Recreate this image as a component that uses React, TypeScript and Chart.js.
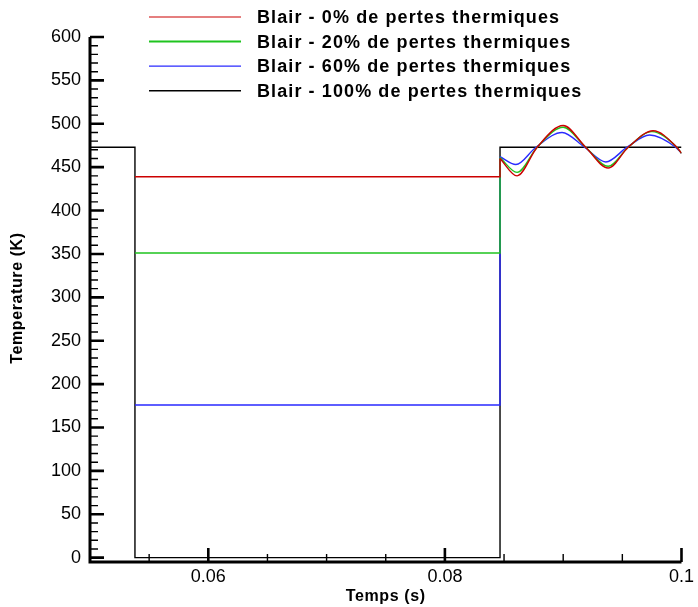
import React, { useEffect, useRef } from "react";
import { Chart, registerables } from "chart.js";

Chart.register(...registerables);

// ---- Data ----
const SERIES_LABELS = [
  "Blair - 0% de pertes thermiques",
  "Blair - 20% de pertes thermiques",
  "Blair - 60% de pertes thermiques",
  "Blair - 100% de pertes thermiques",
];
const SERIES_COLORS = ["#cc0000", "#1fc41f", "#2a2aff", "#000000"];

const T_START = 0.05;
const T_DROP = 0.0538;
const T_RISE = 0.08466;
const T_END = 0.1;
const T_INITIAL = 473; // K before the drop
const PLATEAU = [439, 351, 176, 0]; // K between drop and rise
const BLACK_AFTER = 473;

// Oscillation after the rise (time, temperature)
const OSC_T_RED = [0.08466, 0.0861, 0.0878, 0.09, 0.0919, 0.0938, 0.0955, 0.0976, 0.0996, 0.1];
const OSC_RED = [460, 440, 473, 498, 473, 449, 473, 492, 473, 466];
const OSC_T_GREEN = [0.08466, 0.0861, 0.0878, 0.09, 0.0919, 0.0938, 0.0955, 0.0975, 0.0996, 0.1];
const OSC_GREEN = [461, 444, 473, 496, 473, 451, 473, 491, 473, 466];
const OSC_T_BLUE = [0.08466, 0.086, 0.0877, 0.0899, 0.0918, 0.0936, 0.0954, 0.0973, 0.0995, 0.1];
const OSC_BLUE = [462, 453, 473, 490, 473, 456, 473, 487, 473, 466];

const X_MIN = 0.05;
const X_MAX = 0.1;
const Y_MIN = -5;
const Y_MAX = 600;
const X_TICKS = [0.06, 0.08, 0.1];
const X_MINOR_STEP = 0.005;
const Y_TICKS = [0, 50, 100, 150, 200, 250, 300, 350, 400, 450, 500, 550, 600];
const Y_MINOR_STEP = 10;

const FONT = "'Liberation Sans', Arial, Helvetica, sans-serif";

const pts = (xs: number[], ys: number[]) => xs.map((x, i) => ({ x, y: ys[i] }));

const axesPlugin = {
  id: "tecplotAxes",
  afterDatasetsDraw(chart: any) {
    const { ctx, chartArea, scales } = chart;
    const xs = scales.x;
    const ys = scales.y;
    const { left, right, top, bottom } = chartArea;
    ctx.save();
    ctx.strokeStyle = "#000";
    ctx.lineWidth = 3;
    ctx.lineJoin = "miter";
    ctx.beginPath();
    ctx.moveTo(left, top);
    ctx.lineTo(left, bottom);
    ctx.lineTo(right, bottom);
    ctx.stroke();
    ctx.lineWidth = 2.6;
    ctx.beginPath();
    for (const v of Y_TICKS) {
      const y = ys.getPixelForValue(v);
      ctx.moveTo(left, y);
      ctx.lineTo(left + 14, y);
    }
    for (const v of X_TICKS) {
      const x = xs.getPixelForValue(v);
      ctx.moveTo(x, bottom);
      ctx.lineTo(x, bottom - 14);
    }
    ctx.stroke();
    ctx.lineWidth = 1.4;
    ctx.beginPath();
    for (let k = 1; k * Y_MINOR_STEP < Y_MAX; k++) {
      const v = k * Y_MINOR_STEP;
      if (v % 50 === 0) continue;
      const y = ys.getPixelForValue(v);
      ctx.moveTo(left, y);
      ctx.lineTo(left + 8, y);
    }
    const nMinor = Math.round((X_MAX - X_MIN) / X_MINOR_STEP);
    for (let k = 1; k < nMinor; k++) {
      const v = X_MIN + k * X_MINOR_STEP;
      if (X_TICKS.some((t) => Math.abs(t - v) < 1e-9)) continue;
      const x = xs.getPixelForValue(v);
      ctx.moveTo(x, bottom);
      ctx.lineTo(x, bottom - 8);
    }
    ctx.stroke();
    ctx.restore();
  },
  afterDraw(chart: any) {
    const { ctx, chartArea } = chart;
    ctx.save();
    const lx0 = 149;
    const lx1 = 241;
    const tx = 257;
    const y0 = 17;
    const dy = 24.6;
    ctx.font = `bold 18px ${FONT}`;
    (ctx as any).letterSpacing = "1.1px";
    ctx.textBaseline = "middle";
    ctx.textAlign = "left";
    for (let i = 0; i < SERIES_LABELS.length; i++) {
      const y = y0 + i * dy;
      ctx.strokeStyle = SERIES_COLORS[i];
      ctx.lineWidth = i === 1 ? 2 : i === 3 ? 1.6 : 1.2;
      ctx.beginPath();
      ctx.moveTo(lx0, y);
      ctx.lineTo(lx1, y);
      ctx.stroke();
      ctx.fillStyle = "#000";
      ctx.fillText(SERIES_LABELS[i], tx, y + 1);
    }
    ctx.font = `bold 16px ${FONT}`;
    (ctx as any).letterSpacing = "0.6px";
    ctx.textAlign = "center";
    ctx.textBaseline = "middle";
    ctx.fillText("Temps (s)", (chartArea.left + chartArea.right) / 2, 597);
    ctx.translate(18, 298);
    ctx.rotate(-Math.PI / 2);
    ctx.fillText("Temperature (K)", 0, 0);
    ctx.restore();
  },
};

export default function App() {
  const ref = useRef<HTMLCanvasElement | null>(null);
  useEffect(() => {
    document.body.style.margin = "0";
    const canvas = ref.current;
    if (!canvas) return;

    const stepData = [
      [
        { x: T_DROP, y: PLATEAU[0] },
        { x: T_RISE, y: PLATEAU[0] },
        { x: T_RISE, y: OSC_RED[0] },
      ],
      [
        { x: T_DROP, y: PLATEAU[1] },
        { x: T_RISE, y: PLATEAU[1] },
        { x: T_RISE, y: OSC_GREEN[0] },
      ],
      [
        { x: T_DROP, y: PLATEAU[2] },
        { x: T_RISE, y: PLATEAU[2] },
        { x: T_RISE, y: OSC_BLUE[0] },
      ],
      [
        { x: T_START, y: T_INITIAL },
        { x: T_DROP, y: T_INITIAL },
        { x: T_DROP, y: PLATEAU[3] },
        { x: T_RISE, y: PLATEAU[3] },
        { x: T_RISE, y: BLACK_AFTER },
        { x: T_END, y: BLACK_AFTER },
      ],
    ];
    const oscData = [pts(OSC_T_RED, OSC_RED), pts(OSC_T_GREEN, OSC_GREEN), pts(OSC_T_BLUE, OSC_BLUE)];

    const datasets: any[] = [];
    for (let i = 0; i < 4; i++) {
      datasets.push({
        label: SERIES_LABELS[i],
        data: stepData[i],
        borderColor: SERIES_COLORS[i],
        borderWidth: 1.4,
        pointRadius: 0,
        tension: 0,
        fill: false,
        order: i,
      });
    }
    for (let i = 0; i < 3; i++) {
      datasets.push({
        label: SERIES_LABELS[i] + " (osc)",
        data: oscData[i],
        borderColor: SERIES_COLORS[i],
        borderWidth: 1.4,
        pointRadius: 0,
        cubicInterpolationMode: "monotone",
        fill: false,
        order: i,
      });
    }

    const chart = new Chart(canvas, {
      type: "line",
      data: { datasets },
      options: {
        animation: false,
        responsive: false,
        maintainAspectRatio: false,
        devicePixelRatio: 1,
        layout: { padding: { top: 37, right: 13, bottom: 0, left: 0 } },
        plugins: { legend: { display: false }, tooltip: { enabled: false }, title: { display: false } },
        scales: {
          x: {
            type: "linear",
            min: X_MIN,
            max: X_MAX,
            grid: { display: false, drawTicks: false },
            border: { display: false },
            afterBuildTicks: (s: any) => {
              s.ticks = X_TICKS.map((v) => ({ value: v }));
            },
            afterFit: (s: any) => {
              s.height = 45;
            },
            ticks: {
              color: "#000",
              padding: 4,
              autoSkip: false,
              maxRotation: 0,
              font: { family: FONT, size: 18 },
              callback: (v: any) => String(Number(v)),
            },
          },
          y: {
            type: "linear",
            min: Y_MIN,
            max: Y_MAX,
            grid: { display: false, drawTicks: false },
            border: { display: false },
            afterBuildTicks: (s: any) => {
              s.ticks = Y_TICKS.map((v) => ({ value: v }));
            },
            afterFit: (s: any) => {
              s.width = 90;
            },
            ticks: {
              color: "#000",
              padding: 9,
              autoSkip: false,
              font: { family: FONT, size: 18 },
              callback: (v: any) => String(v),
            },
          },
        },
      },
      plugins: [axesPlugin],
    });
    return () => chart.destroy();
  }, []);

  return (
    <div style={{ width: 698, height: 607, background: "#fff" }}>
      <canvas ref={ref} width={698} height={607} style={{ display: "block", width: 698, height: 607 }} />
    </div>
  );
}
